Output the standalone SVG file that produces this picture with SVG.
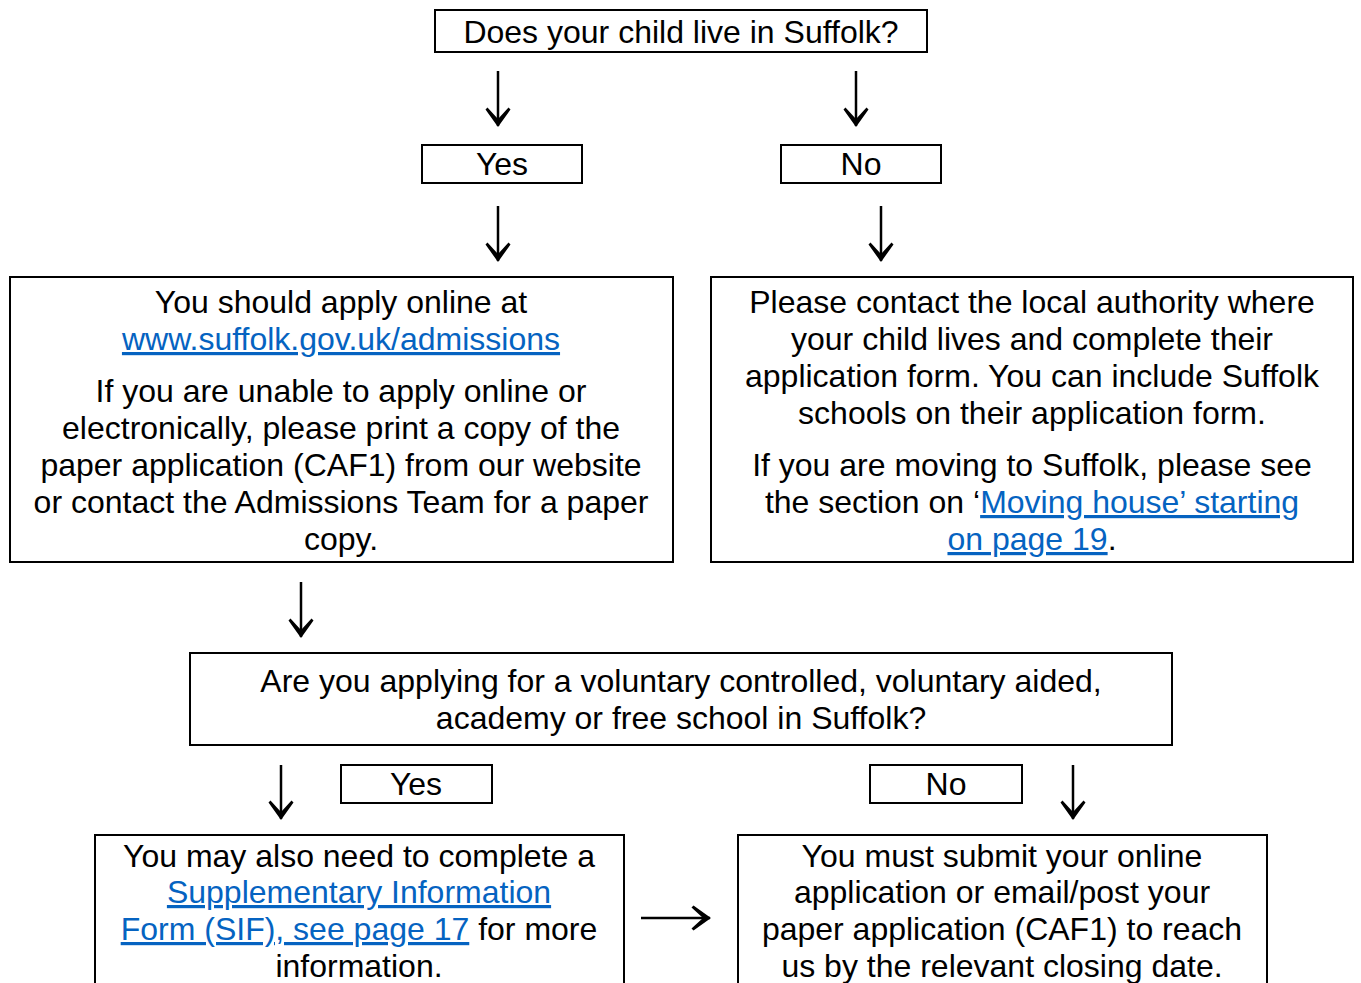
<svg xmlns="http://www.w3.org/2000/svg" width="1361" height="983" viewBox="0 0 1361 983">
<style>
.box{fill:#fff;stroke:#000;stroke-width:2}
.t{font-family:"Liberation Sans",Arial,sans-serif;font-size:32px;fill:#000;text-anchor:middle}
.lk{fill:#0563C1;text-decoration:underline;text-decoration-skip-ink:none}
.c{stroke:#000;stroke-width:2.5;fill:none}
</style>
<defs>
<marker id="ah" markerUnits="userSpaceOnUse" markerWidth="20" markerHeight="26" refX="19" refY="13" orient="auto" viewBox="0 0 20 26">
<path d="M20,13 L2.5,0.5 L0.5,2.5 L12,13 L0.5,23.5 L2.5,25.5 Z" fill="#000"/>
</marker>
</defs>
<rect width="1361" height="983" fill="#fff"/>
<g id="connectors">
<path class="c" d="M498,71 V126" marker-end="url(#ah)"/>
<path class="c" d="M856,71 V126" marker-end="url(#ah)"/>
<path class="c" d="M498,206 V261" marker-end="url(#ah)"/>
<path class="c" d="M881,206 V261" marker-end="url(#ah)"/>
<path class="c" d="M301,582 V637" marker-end="url(#ah)"/>
<path class="c" d="M281,765 V819" marker-end="url(#ah)"/>
<path class="c" d="M1073,765 V819" marker-end="url(#ah)"/>
<path class="c" d="M641,918 H710" marker-end="url(#ah)"/>
</g>
<g id="q1">
<rect class="box" x="435" y="10" width="492" height="42"/>
<text class="t" x="681" y="43">Does your child live in Suffolk?</text>
</g>
<g id="yes1">
<rect class="box" x="422" y="145" width="160" height="38"/>
<text class="t" x="502" y="175">Yes</text>
</g>
<g id="no1">
<rect class="box" x="781" y="145" width="160" height="38"/>
<text class="t" x="861" y="175">No</text>
</g>
<g id="applyOnline">
<rect class="box" x="10" y="277" width="663" height="285"/>
<text class="t" x="341" y="313">You should apply online at</text>
<text class="t" x="341" y="350"><tspan class="lk">www.suffolk.gov.uk/admissions</tspan></text>
<text class="t" x="341" y="402">If you are unable to apply online or</text>
<text class="t" x="341" y="439">electronically, please print a copy of the</text>
<text class="t" x="341" y="476">paper application (CAF1) from our website</text>
<text class="t" x="341" y="513">or contact the Admissions Team for a paper</text>
<text class="t" x="341" y="550">copy.</text>
</g>
<g id="contactLA">
<rect class="box" x="711" y="277" width="642" height="285"/>
<text class="t" x="1032" y="313">Please contact the local authority where</text>
<text class="t" x="1032" y="350">your child lives and complete their</text>
<text class="t" x="1032" y="387">application form. You can include Suffolk</text>
<text class="t" x="1032" y="424">schools on their application form.</text>
<text class="t" x="1032" y="476">If you are moving to Suffolk, please see</text>
<text class="t" x="1032" y="513">the section on ‘<tspan class="lk">Moving house’ starting</tspan></text>
<text class="t" x="1032" y="550"><tspan class="lk">on page 19</tspan>.</text>
</g>
<g id="q2">
<rect class="box" x="190" y="653" width="982" height="92"/>
<text class="t" x="681" y="692">Are you applying for a voluntary controlled, voluntary aided,</text>
<text class="t" x="681" y="729">academy or free school in Suffolk?</text>
</g>
<g id="yes2">
<rect class="box" x="341" y="765" width="151" height="38"/>
<text class="t" x="416" y="795">Yes</text>
</g>
<g id="no2">
<rect class="box" x="870" y="765" width="152" height="38"/>
<text class="t" x="946" y="795">No</text>
</g>
<g id="sif">
<rect class="box" x="95" y="835" width="529" height="170"/>
<text class="t" x="359" y="867">You may also need to complete a</text>
<text class="t" x="359" y="903"><tspan class="lk">Supplementary Information</tspan></text>
<text class="t" x="359" y="940"><tspan class="lk">Form (SIF), see page 17</tspan> for more</text>
<text class="t" x="359" y="977">information.</text>
</g>
<g id="submit">
<rect class="box" x="738" y="835" width="529" height="170"/>
<text class="t" x="1002" y="867">You must submit your online</text>
<text class="t" x="1002" y="903">application or email/post your</text>
<text class="t" x="1002" y="940">paper application (CAF1) to reach</text>
<text class="t" x="1002" y="977">us by the relevant closing date.</text>
</g>
</svg>
